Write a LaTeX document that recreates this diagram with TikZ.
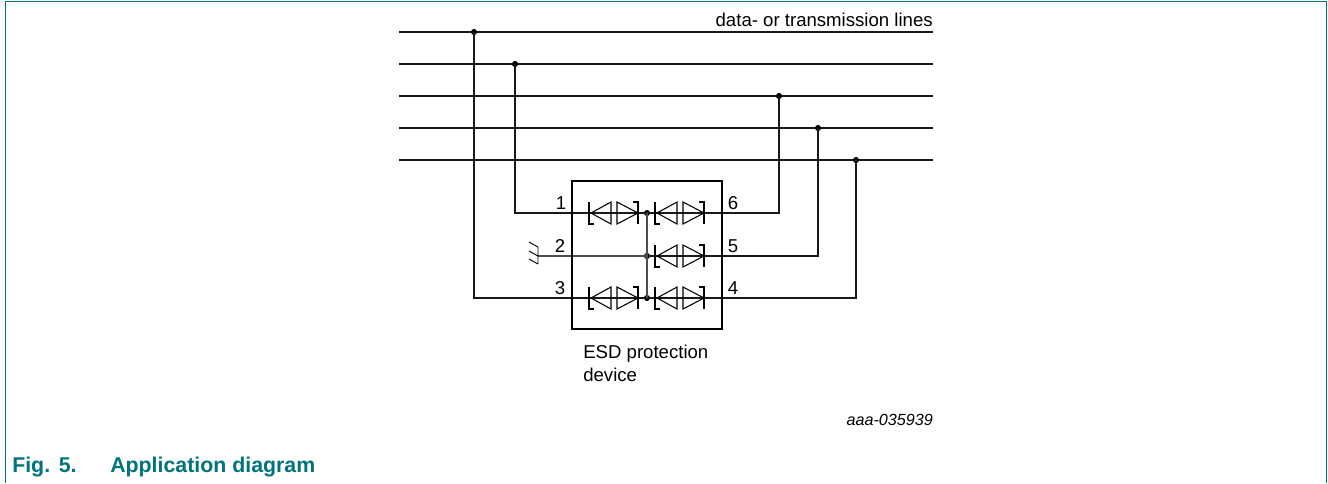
\documentclass[tikz,border=0pt]{standalone}
\usepackage{fontspec}
\setmainfont{Liberation Sans}
\definecolor{teal5}{RGB}{0,115,125}
\tikzset{
  x=0.75pt,y=-0.75pt,
  wire/.style={line width=0.9pt,black!90},
  thinwire/.style={line width=0.8pt,black!70},
  dot/.style={circle,fill=black,inner sep=0pt,minimum size=4.6pt},
  lab/.style={font=\fontsize{13.95pt}{16pt}\selectfont,inner sep=0pt},
  diode/.style={line width=0.8pt,black},
  bar/.style={line width=1.5pt,black},
}
\newcommand{\esdpair}[2]{%
  \draw[diode] (#1-20,#2) -- (#1,#2-11) -- (#1,#2+11) -- cycle;
  \draw[diode] (#1+6,#2-11) -- (#1+6,#2+11) -- (#1+27,#2) -- cycle;
  \draw[bar] (#1-17,#2+11) -- (#1-22,#2+11) -- (#1-22,#2-11);
  \draw[bar] (#1+22,#2-11) -- (#1+27,#2-11) -- (#1+27,#2+11);
}
\begin{document}
\begin{tikzpicture}
\useasboundingbox (0,0) rectangle (1328,483);
\draw[teal5,line width=1.1pt] (5.5,483) -- (5.5,1.5) -- (1326.5,1.5) -- (1326.5,483);
\coordinate (l1a) at (399,32); \coordinate (l1b) at (933,32);
\coordinate (l2a) at (399,64); \coordinate (l2b) at (933,64);
\coordinate (l3a) at (399,96); \coordinate (l3b) at (933,96);
\coordinate (l4a) at (399,128); \coordinate (l4b) at (933,128);
\coordinate (l5a) at (399,160); \coordinate (l5b) at (933,160);
\foreach \i in {1,...,5} \draw[wire] (l\i a) -- (l\i b);
\node[dot] (d1) at (474,32) {};
\node[dot] (d2) at (515,64) {};
\node[dot] (d3) at (779,96) {};
\node[dot] (d4) at (818,128) {};
\node[dot] (d5) at (856,160) {};
\node[dot] (j1) at (647,213) {};
\node[dot] (j2) at (647,256) {};
\node[dot] (j3) at (647,298) {};
\draw[wire] (d2.center) |- (j1.center);
\draw[wire] (d3.center) |- (j1.center);
\draw[wire] (d1.center) |- (j3.center);
\draw[wire] (d5.center) |- (j3.center);
\draw[wire] (d4.center) |- (j2.center);
\coordinate (gnd) at (538,256);
\draw[thinwire] (gnd) -- (j2.center);
\draw[thinwire] (j1.center) -- (j3.center);
\draw[line width=0.7pt] (538,247) -- (538,264) (538,247) -- (529,242) (538,256) -- (529,251) (538,264) -- (529,259);
\draw[line width=0.8pt] (751,255.3) -- (752.5,255.3);
\node[draw,line width=1.8pt,inner sep=0pt,minimum width=112.7pt,minimum height=110.7pt] (box) at (647,255) {};
\esdpair{611}{213}
\esdpair{677}{213}
\esdpair{677}{256}
\esdpair{611}{298}
\esdpair{677}{298}
\node[lab,anchor=base] (n1) at (561,209) {1};
\node[lab,anchor=base] (n2) at (560,252) {2};
\node[lab,anchor=base] (n3) at (560,294) {3};
\node[lab,anchor=base] (n6) at (733,209) {6};
\node[lab,anchor=base] (n5) at (733,252) {5};
\node[lab,anchor=base] (n4) at (733,294) {4};
\node[lab,anchor=base east] (t1) at (933,26) {data- or transmission lines};
\node[lab,anchor=base west] (t2) at (583,358) {ESD protection};
\node[lab,anchor=base west] (t3) at (583,381) {device};
\node[anchor=base east,inner sep=0pt,font=\fontsize{12.1pt}{14pt}\selectfont\itshape] (t4) at (933,425) {aaa-035939};
\node[anchor=base west,inner sep=0pt,text=teal5,font=\fontsize{16pt}{18pt}\selectfont\bfseries] (f1) at (12,472) {Fig.\hspace{6.5pt}5.};
\node[anchor=base west,inner sep=0pt,text=teal5,font=\fontsize{16pt}{18pt}\selectfont\bfseries] (f2) at (110,472) {Application diagram};
\end{tikzpicture}
\end{document}
